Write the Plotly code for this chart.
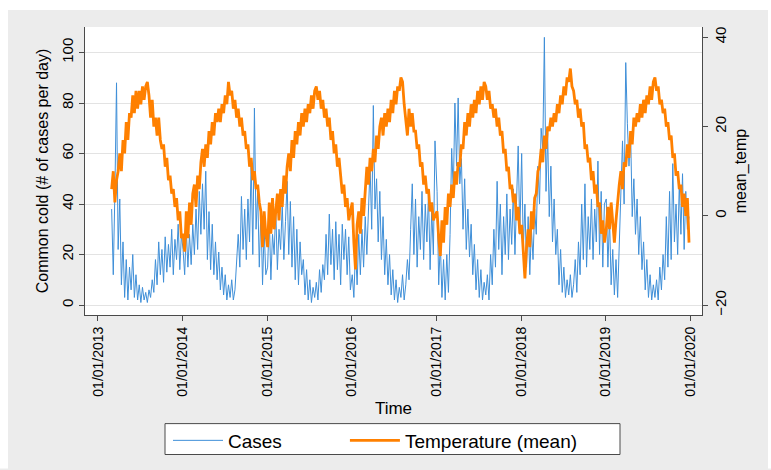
import pandas as pd
import plotly.graph_objects as go

# ---------------- data (weekly readings from the chart) ----------------
# 2013 series starts 1 March 2013, weekly; 2014-2019 start 3 January, weekly (52 each)
temp_2013 = [6, 10, 3, 8, 10, 14, 10, 17, 14, 21, 17, 23, 22, 27, 23, 28, 24, 28, 25, 29, 26, 29,
             30, 27, 22, 26, 20, 22, 18, 22, 17, 15, 16, 11, 13, 8, 9, 5, 6, 2, 4, -1, 1, -5]
temp_2014 = [-4, -8, 1, -5, 3, -2, 5, 7, 2, 9, 6, 12, 15, 11, 16, 13, 19, 16, 21, 18, 23, 21,
             24, 21, 25, 23, 27, 25, 30, 27, 28, 24, 26, 22, 24, 20, 22, 18, 19, 15, 16, 11, 13, 8,
             10, 6, 7, 3, 1, -7, 1, -4]
temp_2015 = [-7, 3, -4, 4, -3, 2, 5, -1, 6, 2, 9, 5, 11, 14, 10, 17, 13, 19, 16, 21, 18, 23,
             20, 24, 21, 25, 23, 27, 24, 28, 29, 26, 28, 24, 26, 22, 24, 20, 22, 17, 19, 14, 16, 11,
             13, 9, 5, 7, 2, 4, -1, 1]
temp_2016 = [3, -6, -12, -2, 1, -4, 4, 0, 7, 11, 7, 13, 10, 15, 12, 18, 15, 20, 22, 18, 23, 20,
             24, 21, 26, 23, 28, 25, 29, 28, 31, 30, 25, 21, 18, 24, 20, 23, 19, 19, 15, 16, 11, 12,
             7, 9, 5, 6, 1, 3, -1, 0]
temp_2017 = [1, -5, -9, -1, -6, 2, -2, 5, 2, 7, 4, 10, 7, 12, 11, 16, 15, 21, 18, 23, 20, 25,
             22, 26, 23, 28, 25, 29, 26, 30, 29, 26, 28, 24, 25, 22, 24, 20, 22, 18, 19, 14, 15, 10,
             11, 6, 7, 3, 5, -1, 2, -4]
temp_2018 = [-2, -8, -14, -7, -3, -7, 1, -3, 4, 5, 10, 11, 15, 12, 18, 15, 20, 19, 22, 20, 23, 21,
             25, 23, 27, 25, 29, 27, 31, 30, 33, 29, 28, 25, 26, 22, 24, 20, 21, 15, 16, 12, 13, 8,
             10, 5, 7, 2, 3, -4, -1, -6]
temp_2019 = [-3, 2, -3, 3, -2, -6, -1, 4, 7, 10, 6, 12, 11, 16, 13, 19, 16, 22, 20, 23, 21, 25,
             22, 26, 23, 27, 25, 29, 26, 30, 31, 28, 29, 25, 26, 23, 24, 20, 21, 17, 18, 13, 14, 9,
             10, 6, 7, 2, 5, 0, 4, -6]

cases_2013 = [38, 12, 45, 88, 22, 42, 8, 25, 3, 18, 2, 15, 6, 20, 3, 12, 2, 8, 1, 7, 2, 5,
              1, 6, 3, 10, 5, 18, 8, 25, 12, 22, 9, 27, 13, 24, 15, 30, 12, 26, 18, 32, 14, 28]
cases_2014 = [22, 12, 30, 15, 28, 16, 32, 20, 38, 22, 45, 28, 48, 30, 53, 18, 37, 14, 32, 12, 25, 10,
              21, 6, 15, 4, 12, 2, 8, 3, 10, 2, 6, 18, 28, 15, 43, 22, 38, 18, 42, 25, 57, 20,
              78, 30, 45, 15, 38, 8, 30, 12]
cases_2015 = [15, 35, 10, 28, 20, 38, 14, 30, 22, 40, 18, 33, 49, 20, 41, 15, 35, 10, 30, 8, 25, 12,
              18, 4, 14, 2, 10, 1, 7, 3, 9, 2, 14, 5, 16, 10, 28, 12, 36, 16, 30, 10, 33, 14,
              28, 8, 32, 18, 30, 12, 27, 6]
cases_2016 = [12, 3, 22, 8, 28, 12, 30, 15, 35, 20, 42, 55, 30, 79, 38, 50, 25, 45, 18, 35, 12, 26,
              8, 20, 4, 14, 2, 10, 1, 7, 3, 12, 2, 8, 18, 10, 30, 48, 20, 42, 15, 35, 22, 45,
              18, 40, 25, 44, 14, 38, 20, 65]
cases_2017 = [45, 8, 25, 3, 18, 2, 20, 5, 28, 62, 45, 80, 55, 82, 48, 58, 30, 50, 22, 38, 19, 32,
              12, 24, 6, 18, 3, 14, 2, 9, 4, 12, 2, 20, 8, 30, 15, 49, 22, 40, 12, 35, 20, 44,
              18, 38, 24, 46, 20, 42, 63, 28]
cases_2018 = [60, 22, 40, 15, 35, 12, 30, 18, 38, 28, 55, 40, 70, 62, 106, 45, 68, 35, 55, 25, 42, 20,
              30, 8, 22, 5, 15, 3, 10, 4, 12, 3, 8, 18, 5, 25, 12, 40, 18, 48, 15, 35, 22, 42,
              18, 38, 25, 57, 20, 45, 15, 40]
cases_2019 = [42, 15, 35, 8, 22, 4, 18, 3, 25, 48, 65, 40, 96, 72, 55, 68, 35, 50, 28, 42, 20, 35,
              14, 25, 6, 18, 3, 12, 2, 8, 3, 10, 2, 15, 6, 20, 10, 35, 15, 45, 18, 56, 25, 40,
              20, 48, 28, 52, 22, 45, 30, 35]

tick_years = [2013, 2014, 2015, 2016, 2017, 2018, 2019, 2020]
tick_labels = ["01/01/2013", "01/01/2014", "01/01/2015", "01/01/2016",
               "01/01/2017", "01/01/2018", "01/01/2019", "01/01/2020"]
left_ticks = [0, 20, 40, 60, 80, 100]
right_ticks = [-20, 0, 20, 40]

# ---------------- assemble ----------------
series_start = {2013: "2013-03-01", 2014: "2014-01-03", 2015: "2015-01-03", 2016: "2016-01-03",
                2017: "2017-01-03", 2018: "2018-01-03", 2019: "2019-01-03"}
temps = {2013: temp_2013, 2014: temp_2014, 2015: temp_2015, 2016: temp_2016,
         2017: temp_2017, 2018: temp_2018, 2019: temp_2019}
cases = {2013: cases_2013, 2014: cases_2014, 2015: cases_2015, 2016: cases_2016,
         2017: cases_2017, 2018: cases_2018, 2019: cases_2019}

dates, temp_all, cases_all = [], [], []
for yr in range(2013, 2020):
    assert len(temps[yr]) == len(cases[yr]), (yr, len(temps[yr]), len(cases[yr]))
    d = pd.date_range(series_start[yr], periods=len(temps[yr]), freq="7D")
    dates += list(d)
    temp_all += temps[yr]
    cases_all += cases[yr]

FONT = "Liberation Sans, Arial, Helvetica, sans-serif"
AX = "#4a4a4a"
W, H = 771, 470
ML, MR, MT, MB = 85, 69, 27, 154
PW, PH = W - ML - MR, H - MT - MB
NBSP = "\u00a0"

fig = go.Figure()
fig.add_trace(go.Scatter(x=dates, y=cases_all, mode="lines", name="Cases" + NBSP * 11,
                         line=dict(color="#3f8fd8", width=1.0), yaxis="y"))
fig.add_trace(go.Scatter(x=dates, y=temp_all, mode="lines", name="Temperature (mean)",
                         line=dict(color="#ff8000", width=2.8), yaxis="y2"))

def px_x(p):
    return (p - ML) / PW

def px_y(p):
    return (H - MB - p) / PH

def rect(x0, y0, x1, y1, fill, line=None):
    return dict(type="rect", xref="paper", yref="paper", x0=px_x(x0), x1=px_x(x1),
                y0=px_y(y1), y1=px_y(y0), fillcolor=fill,
                line=line or dict(width=0), layer="below")

shapes = [
    rect(0, 0, W, 10, "white"),
    rect(0, 0, 8, H, "white"),
    rect(768, 0, W, H, "white"),
    rect(165, 425, 620, 456, "white", dict(color=AX, width=1)),  # legend frame
]

fig.update_layout(
    width=W, height=H, autosize=False,
    margin=dict(l=ML, r=MR, t=MT, b=MB),
    paper_bgcolor="#ececec", plot_bgcolor="white",
    font=dict(family=FONT, color="black", size=15),
    shapes=shapes,
    showlegend=True,
    legend=dict(orientation="h", x=px_x(168), xanchor="left", y=px_y(440.5), yanchor="middle",
                bgcolor="rgba(0,0,0,0)", borderwidth=0,
                font=dict(family=FONT, size=19, color="black"),
                itemwidth=50, traceorder="normal"),
    xaxis=dict(type="date", range=["2012-11-06", "2020-02-20"],
               tickmode="array", tickvals=[f"{y}-01-01" for y in tick_years], ticktext=tick_labels,
               tickangle=-90, ticks="outside", ticklen=5, tickcolor=AX, tickfont=dict(size=14),
               showline=True, linecolor=AX, linewidth=1, showgrid=False, zeroline=False,
               title=dict(text="Time", font=dict(size=17), standoff=6)),
    yaxis=dict(range=[-3.95, 110.1], tickmode="array", tickvals=left_ticks,
               tickangle=-90, ticks="outside", ticklen=5, tickcolor=AX, tickfont=dict(size=15),
               showline=True, linecolor=AX, linewidth=1, showgrid=True, gridcolor="#e3e3e3",
               gridwidth=1, zeroline=False,
               title=dict(text="Common cold (# of cases per day)", font=dict(size=16), standoff=6)),
    yaxis2=dict(range=[-22.2, 42.3], overlaying="y", side="right", tickmode="array",
                tickvals=right_ticks, tickangle=-90, ticks="outside", ticklen=5, tickcolor=AX,
                tickfont=dict(size=15), showline=True, linecolor=AX, linewidth=1,
                showgrid=False, zeroline=False,
                title=dict(text="mean_temp", font=dict(size=16), standoff=6)),
)

fig.write_html("out.html")
